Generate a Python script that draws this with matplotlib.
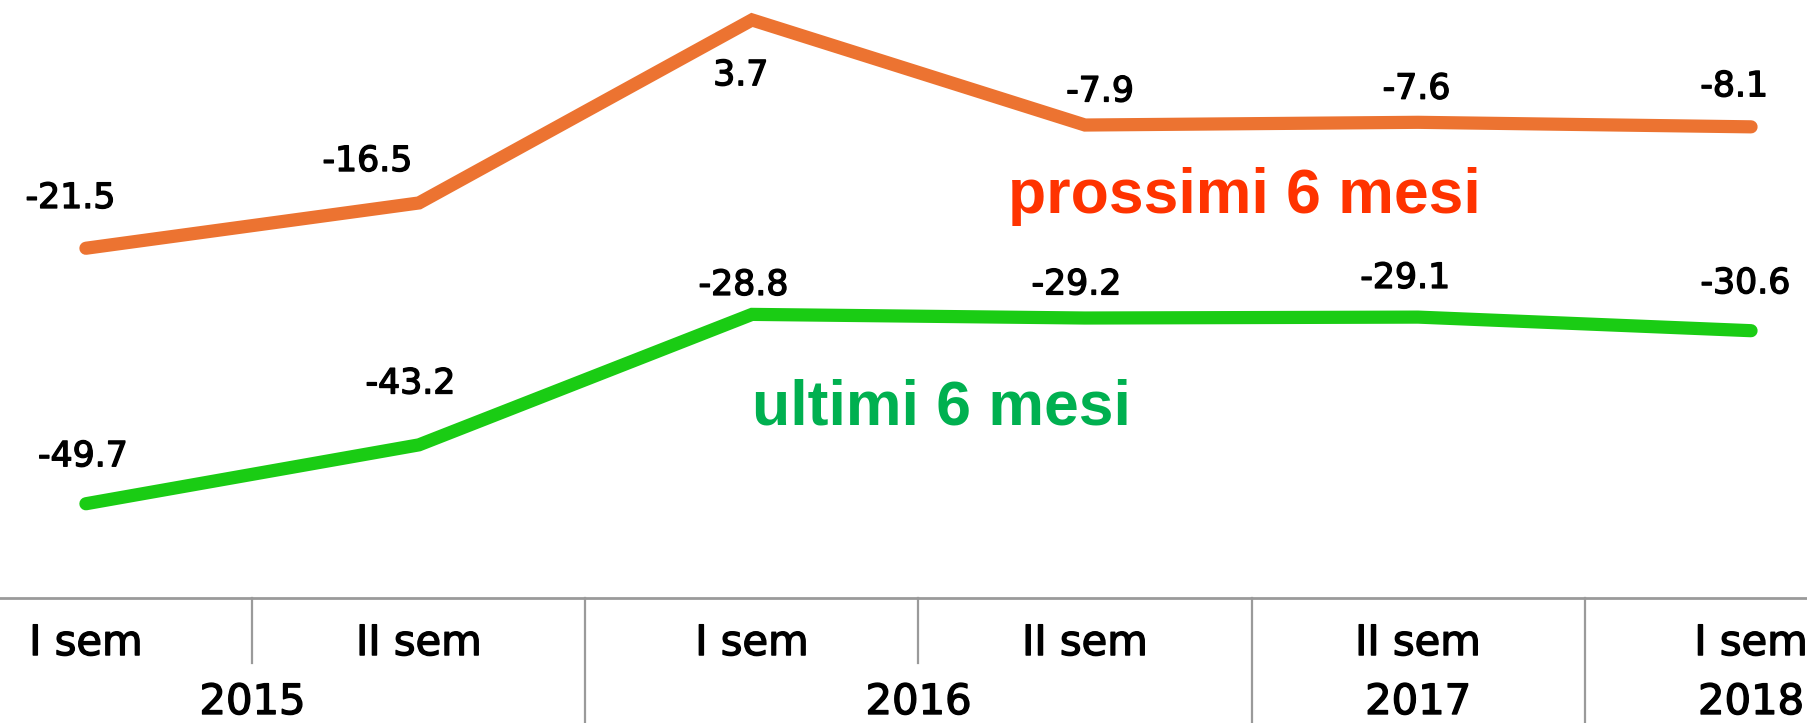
import matplotlib
matplotlib.use("Agg")
import matplotlib.pyplot as plt
import matplotlib.transforms as mtransforms
import matplotlib.patheffects as pe

# data
semesters = ["I sem", "II sem", "I sem", "II sem", "II sem", "I sem"]
years = ["2015", "2016", "2017", "2018"]
year_span = [(0, 1), (2, 3), (4, 4), (5, 5)]
prossimi = [-21.5, -16.5, 3.7, -7.9, -7.6, -8.1]
ultimi = [-49.7, -43.2, -28.8, -29.2, -29.1, -30.6]
# boundaries between categories: True = year boundary (long tick)
boundary_long = [False, True, False, True, True]

ORANGE = "#EC7331"
GREEN = "#1ACC14"
LABEL_FONT = "DejaVu Sans"
# slightly heavier strokes for the black labels
heavy = [pe.withStroke(linewidth=1.0, foreground="black")]

fig = plt.figure(figsize=(18.08, 7.23), dpi=100)
ax = fig.add_axes([0, 0, 1, 1])
ax.set_xlim(-0.258, 5.171)
ax.set_ylim(-73.9, 5.9)
ax.axis("off")

x = list(range(len(semesters)))
ax.plot(x, prossimi, color=ORANGE, lw=9.5, solid_capstyle="round",
        solid_joinstyle="miter")
ax.plot(x, ultimi, color=GREEN, lw=9.5, solid_capstyle="round",
        solid_joinstyle="miter")

# value labels, baseline offsets in points
p_off = [(-11, 29), (-37, 23), (-8, -47), (11, 17), (-1, 17), (-12, 22)]
u_off = [(-2, 27), (-6, 37), (-6, 14), (-6, 17), (-9, 21), (-4, 27)]
for i, v in enumerate(prossimi):
    ax.annotate(f"{v:.1f}", (i, v), xytext=p_off[i], textcoords="offset points",
                ha="center", va="baseline", fontsize=25, family=LABEL_FONT,
                path_effects=heavy)
for i, v in enumerate(ultimi):
    ax.annotate(f"{v:.1f}", (i, v), xytext=u_off[i], textcoords="offset points",
                ha="center", va="baseline", fontsize=25, family=LABEL_FONT,
                path_effects=heavy)

ax.text(3.48, -17.65, "prossimi 6 mesi", color="#FF3300", fontsize=45,
        fontweight="bold", family="Liberation Sans", ha="center", va="baseline")
ax.text(2.57, -41.0, "ultimi 6 mesi", color="#00B050", fontsize=45,
        fontweight="bold", family="Liberation Sans", ha="center", va="baseline")

# category axis drawn by hand
trans = mtransforms.blended_transform_factory(ax.transData, ax.transAxes)
axis_y = 0.173
ax.plot([-1, 6], [axis_y, axis_y], color="#9a9a9a", lw=2, transform=trans,
        clip_on=False)
for i, long in enumerate(boundary_long):
    bx = i + 0.5
    ax.plot([bx, bx], [axis_y, 0.0 if long else 0.083], color="#9a9a9a", lw=1.6,
            transform=trans)
for i, s in enumerate(semesters):
    ax.text(i, 0.094, s, transform=trans, ha="center", va="baseline",
            fontsize=30, family=LABEL_FONT, path_effects=heavy)
for yr, (a, b) in zip(years, year_span):
    ax.text((a + b) / 2, 0.0, yr, transform=trans, ha="center", va="bottom",
            fontsize=30, family=LABEL_FONT, path_effects=heavy)

fig.savefig("out.png", dpi=100)
